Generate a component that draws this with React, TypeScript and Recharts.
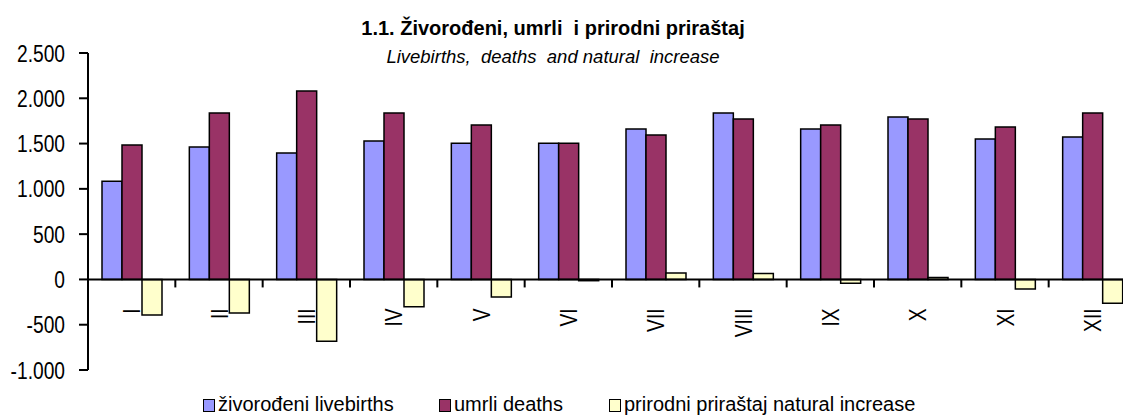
import React from 'react';
import { BarChart, Bar, XAxis, YAxis, ReferenceLine, Legend } from 'recharts';

const months = ['I', 'II', 'III', 'IV', 'V', 'VI', 'VII', 'VIII', 'IX', 'X', 'XI', 'XII'];
const livebirths = [1085, 1462, 1396, 1528, 1503, 1503, 1661, 1838, 1661, 1793, 1550, 1572];
const deaths = [1484, 1838, 2081, 1838, 1705, 1503, 1595, 1771, 1705, 1771, 1683, 1838];
const naturalIncrease = [-394, -372, -682, -302, -195, -14, 70, 65, -41, 22, -107, -262];
const yTicks = [-1000, -500, 0, 500, 1000, 1500, 2000, 2500];

const seriesNames = ['živorođeni livebirths', 'umrli deaths', 'prirodni priraštaj natural increase'];
const COLORS = ['#9999FF', '#993366', '#FFFFCC'];
// legend item left edges
const legendX = [203, 439, 609];

const FONT = '"Liberation Sans", Arial, sans-serif';
// axis labels in the original use a narrow face; squeeze the regular one
const NARROW = 0.8;

const W = 1140;
const H = 416;
const M = { top: 53, right: 4, left: 0, bottom: 16 };
const Y_AXIS_W = 88;
const X_AXIS_H = 30;
const Y_MIN = -1000;
const Y_MAX = 2500;
const PLOT_H = H - M.top - M.bottom - X_AXIS_H;
const PLOT_W = W - M.left - M.right - Y_AXIS_W;
const ZERO_Y = M.top + (PLOT_H * Y_MAX) / (Y_MAX - Y_MIN);
const BAND = PLOT_W / months.length;

const data = months.map((m, i) => ({
  month: m,
  livebirths: livebirths[i],
  deaths: deaths[i],
  increase: naturalIncrease[i],
}));

function fmt(v: number) {
  const s = Math.abs(v).toString().replace(/\B(?=(\d{3})+(?!\d))/g, '.');
  return v < 0 ? '-' + s : s;
}

function ValueTick(props: any) {
  const { x, y, payload } = props;
  return (
    <text
      transform={`translate(${x},${y}) scale(${NARROW},1)`}
      textAnchor="end"
      dy="0.355em"
      fontSize={24}
      fontFamily={FONT}
      fill="#000"
    >
      {fmt(payload.value)}
    </text>
  );
}

function MonthTick(props: any) {
  const { x, payload, index } = props;
  const left = x - BAND / 2;
  return (
    <g>
      <line x1={left} x2={left} y1={ZERO_Y} y2={ZERO_Y + 8} stroke="#000" strokeWidth={2} />
      {index === months.length - 1 && (
        <line x1={x + BAND / 2} x2={x + BAND / 2} y1={ZERO_Y} y2={ZERO_Y + 8} stroke="#000" strokeWidth={2} />
      )}
      <text
        transform={`translate(${x},${ZERO_Y + 29}) rotate(-90) scale(${NARROW},1)`}
        textAnchor="end"
        dy="0.36em"
        fontSize={24}
        fontFamily={FONT}
        fill="#000"
      >
        {payload.value}
      </text>
    </g>
  );
}

function LegendContent() {
  return (
    <div style={{ position: 'relative', width: 1123, height: 26, fontFamily: FONT, fontSize: 20, color: '#000' }}>
      {seriesNames.map((name, i) => (
        <div key={name} style={{ position: 'absolute', left: legendX[i], top: 0, whiteSpace: 'nowrap', lineHeight: '24px' }}>
          <span
            style={{
              position: 'absolute',
              left: 0,
              top: 7,
              width: 10,
              height: 11,
              background: COLORS[i],
              border: '1.5px solid #000',
            }}
          />
          <span style={{ position: 'absolute', left: 15, top: 0 }}>{name}</span>
        </div>
      ))}
    </div>
  );
}

export default function App() {
  return (
    <div style={{ position: 'fixed', left: 0, top: 0, width: 1123, height: 416, overflow: 'hidden', background: '#fff' }}>
      <div
        style={{
          position: 'absolute',
          left: 353,
          width: 400,
          top: 17,
          textAlign: 'center',
          fontFamily: FONT,
          fontWeight: 'bold',
          fontSize: 20,
          lineHeight: '22px',
          color: '#000',
          zIndex: 2,
          whiteSpace: 'pre',
        }}
      >
        {'1.1. Živorođeni, umrli  i prirodni priraštaj'}
      </div>
      <div
        style={{
          position: 'absolute',
          left: 353,
          width: 400,
          top: 46,
          textAlign: 'center',
          fontFamily: FONT,
          fontStyle: 'italic',
          fontSize: 18.5,
          lineHeight: '22px',
          color: '#000',
          zIndex: 2,
          whiteSpace: 'pre',
        }}
      >
        {'Livebirths,  deaths  and natural  increase'}
      </div>
      <BarChart width={W} height={H} data={data} margin={M} barSize={20} barGap={0}>
        <XAxis
          dataKey="month"
          height={X_AXIS_H}
          axisLine={false}
          tickLine={false}
          interval={0}
          tick={<MonthTick />}
        />
        <YAxis
          width={Y_AXIS_W}
          domain={[Y_MIN, Y_MAX]}
          ticks={yTicks}
          interval={0}
          axisLine={{ stroke: '#000', strokeWidth: 2 }}
          tickLine={{ stroke: '#000', strokeWidth: 2 }}
          tickSize={9}
          tickMargin={14}
          tick={<ValueTick />}
        />
        <Bar dataKey="livebirths" name={seriesNames[0]} fill={COLORS[0]} stroke="#000" strokeWidth={1.5} isAnimationActive={false} />
        <Bar dataKey="deaths" name={seriesNames[1]} fill={COLORS[1]} stroke="#000" strokeWidth={1.5} isAnimationActive={false} />
        <Bar dataKey="increase" name={seriesNames[2]} fill={COLORS[2]} stroke="#000" strokeWidth={1.5} isAnimationActive={false} />
        <ReferenceLine y={0} stroke="#000" strokeWidth={2} />
        <Legend
          layout="horizontal"
          verticalAlign="middle"
          content={<LegendContent />}
          wrapperStyle={{ position: 'absolute', left: 0, top: 392, width: 1123, height: 26 }}
        />
      </BarChart>
    </div>
  );
}
